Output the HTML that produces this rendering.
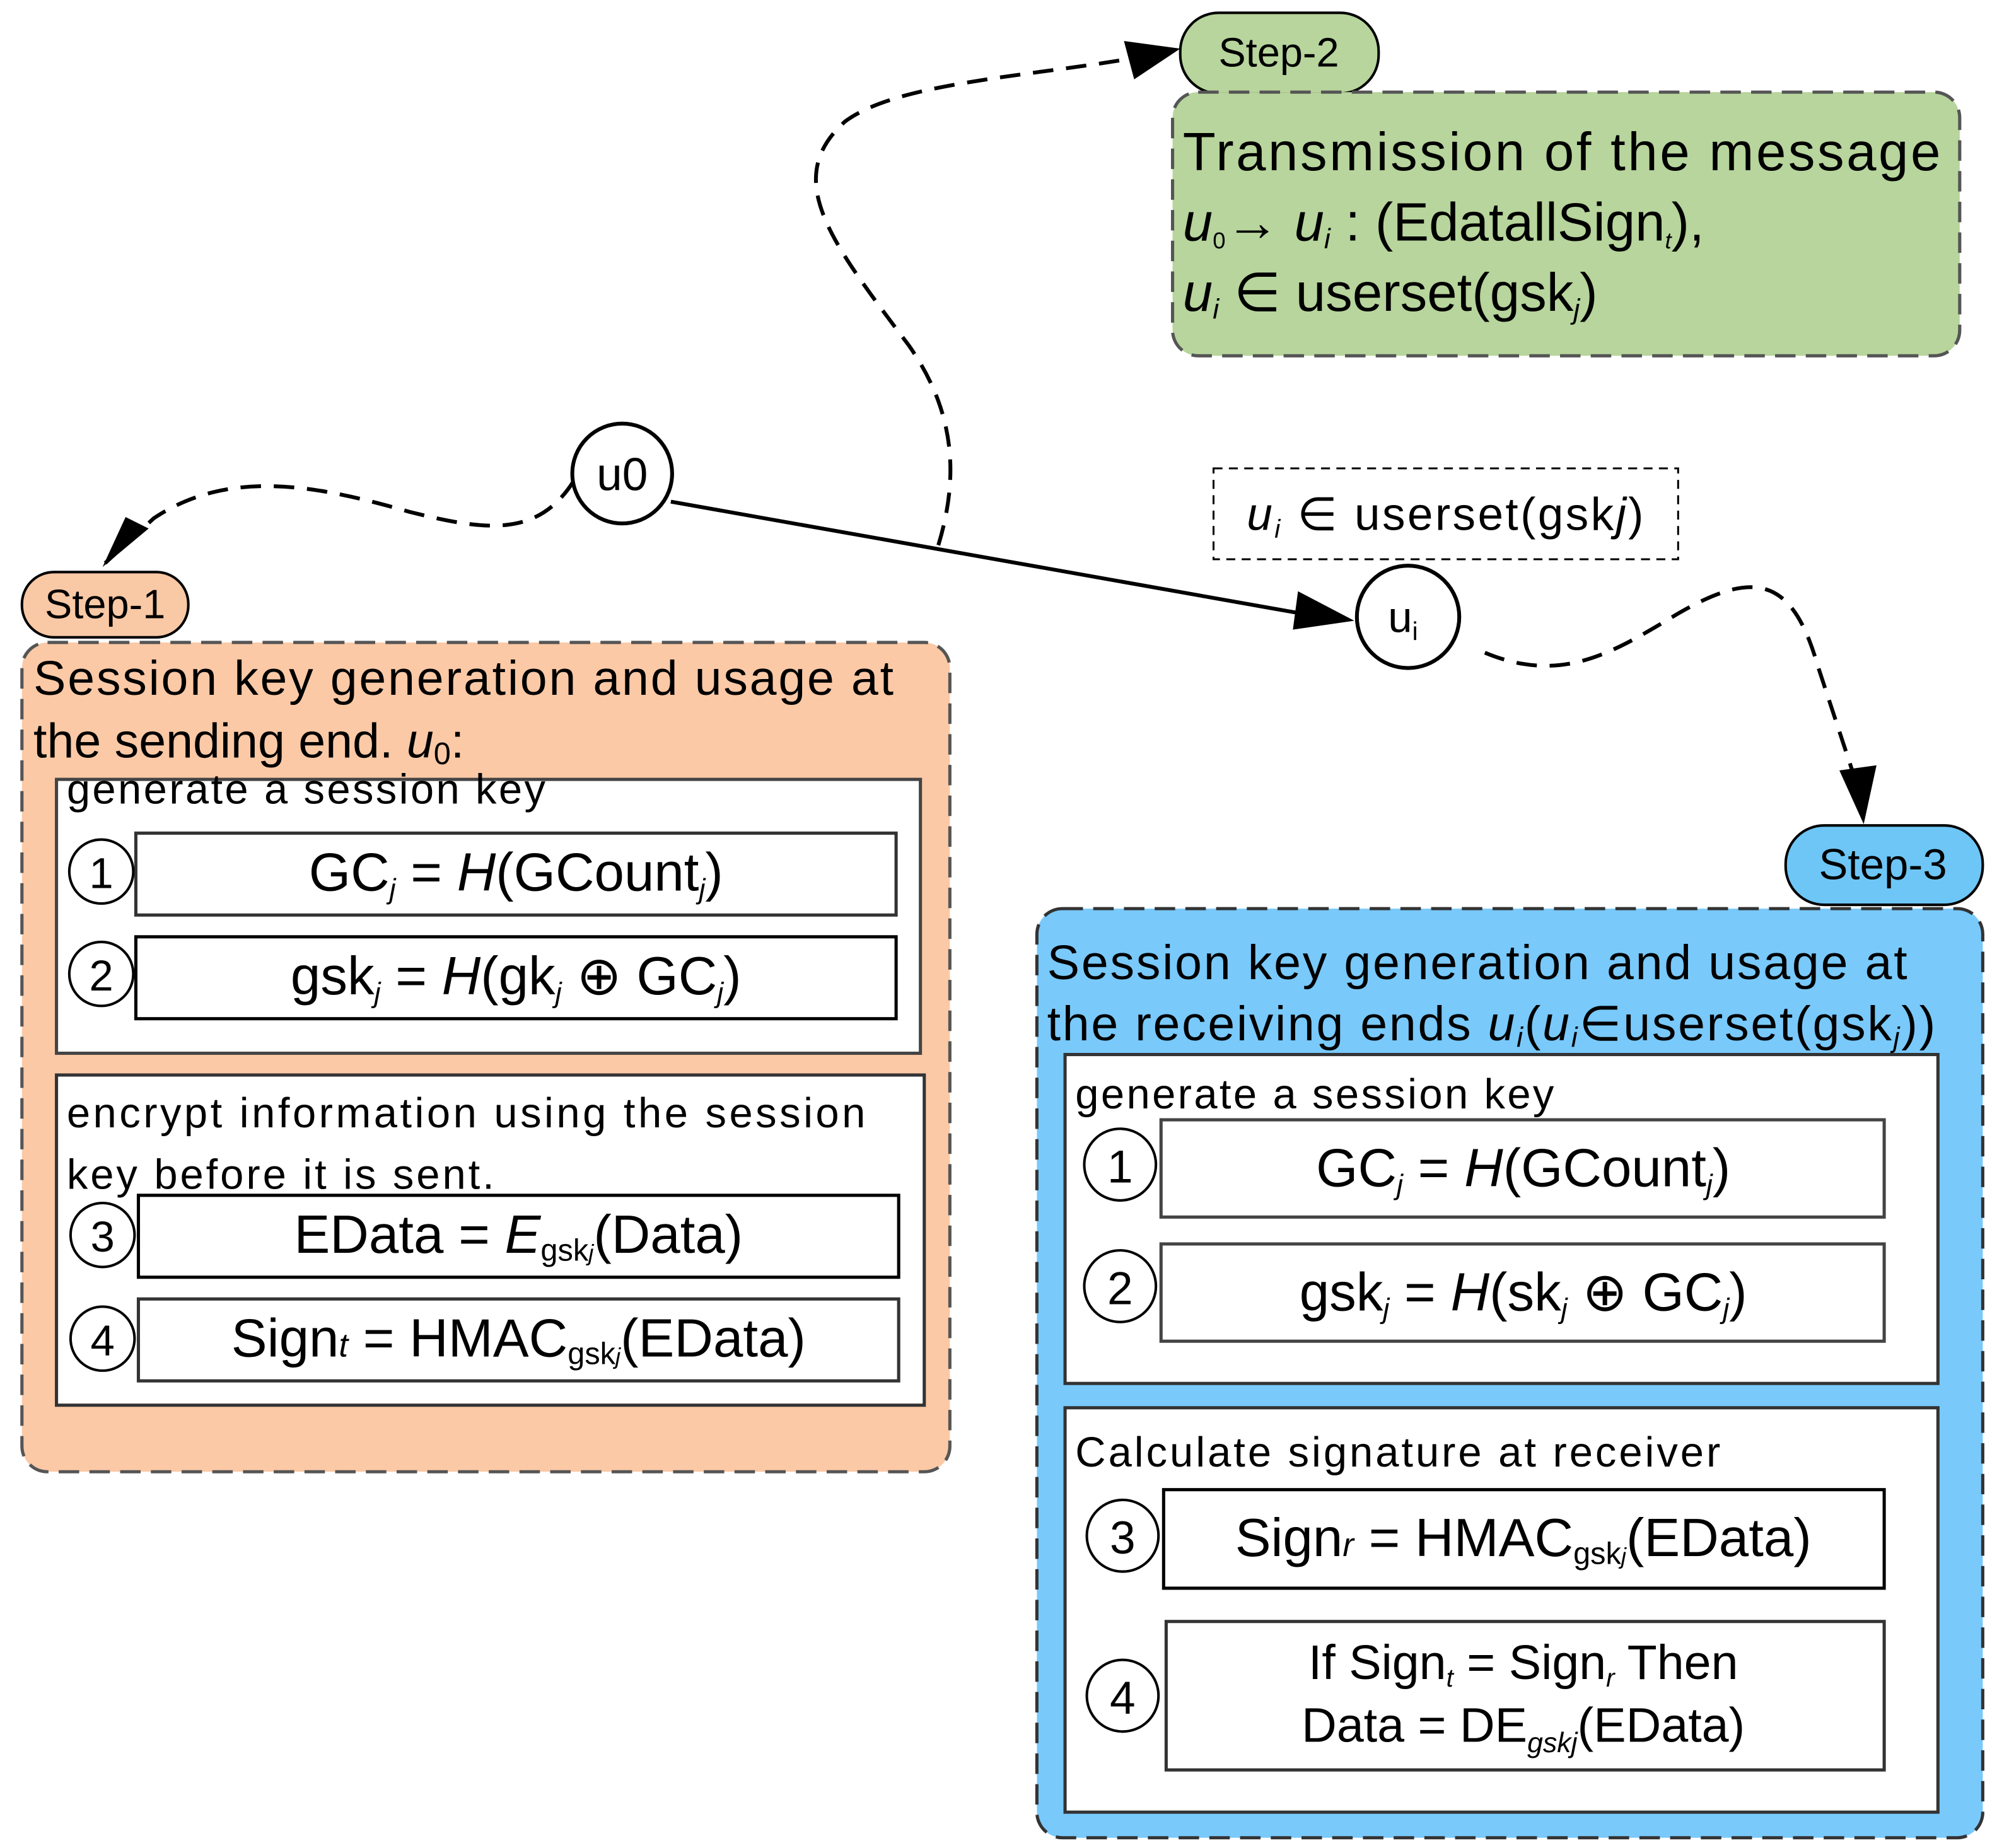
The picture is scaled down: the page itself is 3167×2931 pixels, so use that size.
<!DOCTYPE html>
<html><head><meta charset="utf-8"><style>html,body{margin:0;padding:0;background:#fff}svg{display:block}</style></head>
<body>
<svg width="3167" height="2931" viewBox="0 0 1560 1444" xmlns="http://www.w3.org/2000/svg" font-family="Liberation Sans, Arial, sans-serif">
<defs>
<marker id="ah" markerWidth="10" markerHeight="10" refX="9" refY="5" orient="auto" markerUnits="userSpaceOnUse" viewBox="0 0 10 10"><path d="M0,0 L10,5 L0,10 z" fill="#000"/></marker>
<marker id="ahb" markerWidth="40" markerHeight="30" refX="38" refY="15" orient="auto" markerUnits="userSpaceOnUse"><path d="M0,0 L40,15 L0,30 z" fill="#000"/></marker>
</defs>

<!-- Connectors -->
<path d="M448,376 C420,420 380,415 320,400 C250,380 180,365 120,405 L82,440" fill="none" stroke="#000" stroke-width="3" stroke-dasharray="16,10"/>
<path d="M116,413 L80,443 L98,404 z" fill="#000"/>
<path d="M733,426 C750,370 745,320 710,270 C650,190 610,140 660,95 C700,65 800,60 882,46" fill="none" stroke="#000" stroke-width="3" stroke-dasharray="16,10"/>
<path d="M878,32 L922,38 L886,62 z" fill="#000"/>
<line x1="524" y1="392" x2="1020" y2="480" stroke="#000" stroke-width="3"/>
<path d="M1014,462 L1058,485 L1010,492 z" fill="#000"/>
<path d="M1160,510 C1220,535 1260,510 1310,480 C1370,445 1400,450 1420,520 L1448,605" fill="none" stroke="#000" stroke-width="3" stroke-dasharray="16,10"/>
<path d="M1437,602 L1456,644 L1466,598 z" fill="#000"/>

<!-- u0 / ui nodes -->
<circle cx="486" cy="370" r="39" fill="#fff" stroke="#000" stroke-width="3"/>
<text x="486" y="383" font-size="36" text-anchor="middle">u0</text>
<circle cx="1100" cy="482" r="40" fill="#fff" stroke="#000" stroke-width="3"/>
<text x="1096" y="494" font-size="34" text-anchor="middle">u<tspan font-size="20" dy="6">i</tspan></text>

<!-- dashed label -->
<rect x="948" y="366" width="363" height="71" fill="#fff" stroke="#000" stroke-width="1.5" stroke-dasharray="7,5"/>
<text x="974" y="414" font-size="36" textLength="310"><tspan font-style="italic">u</tspan><tspan font-style="italic" font-size="20" dy="6">i</tspan><tspan dy="-6"> ∈ userset(gsk</tspan><tspan font-style="italic">j</tspan>)</text>

<!-- Step-2 -->
<rect x="922" y="10" width="155" height="63" rx="30" fill="#b7d59c" stroke="#000" stroke-width="2"/>
<text x="999" y="52" font-size="32" text-anchor="middle">Step-2</text>
<rect x="916" y="72" width="615" height="206" rx="20" fill="#b7d59c" stroke="#555" stroke-width="2.5" stroke-dasharray="16,8"/>
<text x="924" y="133" font-size="42" textLength="592">Transmission of the message</text>
<text x="924" y="188" font-size="42"><tspan font-style="italic">u</tspan><tspan font-size="18" dy="6">0</tspan><tspan dy="-6">→ </tspan><tspan font-style="italic">u</tspan><tspan font-style="italic" font-size="22" dy="6">i</tspan><tspan dy="-6"> : (EdatallSign</tspan><tspan font-style="italic" font-size="18" dy="6">t</tspan><tspan dy="-6">),</tspan></text>
<text x="924" y="243" font-size="42"><tspan font-style="italic">u</tspan><tspan font-style="italic" font-size="22" dy="6">i</tspan><tspan dy="-6"> ∈ userset(gsk</tspan><tspan font-style="italic" font-size="22" dy="6">j</tspan><tspan dy="-6">)</tspan></text>

<!-- Step-1 -->
<rect x="17" y="447" width="130" height="51" rx="25" fill="#f9c8a5" stroke="#000" stroke-width="2"/>
<text x="82" y="483" font-size="32" text-anchor="middle">Step-1</text>
<rect x="17" y="502" width="725" height="648" rx="20" fill="#fbc9a6" stroke="#555" stroke-width="2.5" stroke-dasharray="16,8"/>
<text x="26" y="543" font-size="38" textLength="672">Session key generation and usage at</text>
<text x="26" y="592" font-size="38">the sending end. <tspan font-style="italic">u</tspan><tspan font-size="24" dy="5">0</tspan><tspan dy="-5">:</tspan></text>
<rect x="44" y="609" width="675" height="214" fill="#fff" stroke="#444" stroke-width="2.5"/>
<text x="52" y="628" font-size="33" textLength="374">generate a session key</text>
<rect x="106" y="651" width="594" height="64" fill="#fff" stroke="#333" stroke-width="2.5"/>
<rect x="106" y="732" width="594" height="64" fill="#fff" stroke="#000" stroke-width="2.5"/>
<circle cx="79" cy="681" r="25" fill="#fff" stroke="#000" stroke-width="2"/><text x="79" y="694" font-size="34" text-anchor="middle">1</text>
<circle cx="79" cy="761" r="25" fill="#fff" stroke="#000" stroke-width="2"/><text x="79" y="774" font-size="34" text-anchor="middle">2</text>
<text x="403" y="696" font-size="42" text-anchor="middle">GC<tspan font-style="italic" font-size="22" dy="6">j</tspan><tspan dy="-6"> = </tspan><tspan font-style="italic">H</tspan>(GCount<tspan font-style="italic" font-size="22" dy="6">j</tspan><tspan dy="-6">)</tspan></text>
<text x="403" y="777" font-size="42" text-anchor="middle">gsk<tspan font-style="italic" font-size="22" dy="6">j</tspan><tspan dy="-6"> = </tspan><tspan font-style="italic">H</tspan>(gk<tspan font-style="italic" font-size="22" dy="6">j</tspan><tspan dy="-6"> ⊕ GC</tspan><tspan font-style="italic" font-size="22" dy="6">j</tspan><tspan dy="-6">)</tspan></text>

<rect x="44" y="840" width="678" height="258" fill="#fff" stroke="#333" stroke-width="2.5"/>
<text x="52" y="881" font-size="33" textLength="624">encrypt information using the session</text>
<text x="52" y="929" font-size="33" textLength="334">key before it is sent.</text>
<rect x="108" y="934" width="594" height="64" fill="#fff" stroke="#000" stroke-width="2.5"/>
<rect x="108" y="1015" width="594" height="64" fill="#fff" stroke="#333" stroke-width="2.5"/>
<circle cx="80" cy="965" r="25" fill="#fff" stroke="#000" stroke-width="2"/><text x="80" y="978" font-size="34" text-anchor="middle">3</text>
<circle cx="80" cy="1046" r="25" fill="#fff" stroke="#000" stroke-width="2"/><text x="80" y="1059" font-size="34" text-anchor="middle">4</text>
<text x="405" y="979" font-size="42" text-anchor="middle">EData = <tspan font-style="italic">E</tspan><tspan font-size="24" dy="6">gsk</tspan><tspan font-style="italic" font-size="18">j</tspan><tspan dy="-6">(Data)</tspan></text>
<text x="405" y="1060" font-size="42" text-anchor="middle">Sign<tspan font-style="italic" font-size="26">t</tspan> = HMAC<tspan font-size="24" dy="6">gsk</tspan><tspan font-style="italic" font-size="18">j</tspan><tspan dy="-6">(EData)</tspan></text>

<!-- Step-3 -->
<rect x="1395" y="645" width="154" height="62" rx="30" fill="#6dc6f6" stroke="#000" stroke-width="2"/>
<text x="1471" y="687" font-size="34" text-anchor="middle">Step-3</text>
<rect x="810" y="710" width="739" height="726" rx="20" fill="#79c9fb" stroke="#333" stroke-width="2.5" stroke-dasharray="16,8"/>
<text x="818" y="765" font-size="38" textLength="672">Session key generation and usage at</text>
<text x="818" y="813" font-size="38" textLength="694">the receiving ends <tspan font-style="italic">u</tspan><tspan font-style="italic" font-size="22" dy="5">i</tspan><tspan dy="-5">(</tspan><tspan font-style="italic">u</tspan><tspan font-style="italic" font-size="22" dy="5">i</tspan><tspan dy="-5">∈userset(gsk</tspan><tspan font-style="italic" font-size="22" dy="5">j</tspan><tspan dy="-5">))</tspan></text>
<rect x="832" y="824" width="682" height="257" fill="#fff" stroke="#333" stroke-width="2.5"/>
<text x="840" y="866" font-size="33" textLength="374">generate a session key</text>
<rect x="907" y="875" width="565" height="76" fill="#fff" stroke="#444" stroke-width="2.5"/>
<rect x="907" y="972" width="565" height="76" fill="#fff" stroke="#444" stroke-width="2.5"/>
<circle cx="875" cy="910" r="28" fill="#fff" stroke="#000" stroke-width="2"/><text x="875" y="924" font-size="36" text-anchor="middle">1</text>
<circle cx="875" cy="1005" r="28" fill="#fff" stroke="#000" stroke-width="2"/><text x="875" y="1019" font-size="36" text-anchor="middle">2</text>
<text x="1190" y="927" font-size="42" text-anchor="middle">GC<tspan font-style="italic" font-size="22" dy="6">j</tspan><tspan dy="-6"> = </tspan><tspan font-style="italic">H</tspan>(GCount<tspan font-style="italic" font-size="22" dy="6">j</tspan><tspan dy="-6">)</tspan></text>
<text x="1190" y="1024" font-size="42" text-anchor="middle">gsk<tspan font-style="italic" font-size="22" dy="6">j</tspan><tspan dy="-6"> = </tspan><tspan font-style="italic">H</tspan>(sk<tspan font-style="italic" font-size="22" dy="6">j</tspan><tspan dy="-6"> ⊕ GC</tspan><tspan font-style="italic" font-size="22" dy="6">j</tspan><tspan dy="-6">)</tspan></text>

<rect x="832" y="1100" width="682" height="316" fill="#fff" stroke="#333" stroke-width="2.5"/>
<text x="840" y="1146" font-size="33" textLength="504">Calculate signature at receiver</text>
<rect x="909" y="1164" width="563" height="77" fill="#fff" stroke="#000" stroke-width="2.5"/>
<rect x="911" y="1267" width="561" height="116" fill="#fff" stroke="#333" stroke-width="2.5"/>
<circle cx="877" cy="1200" r="28" fill="#fff" stroke="#000" stroke-width="2"/><text x="877" y="1214" font-size="36" text-anchor="middle">3</text>
<circle cx="877" cy="1325" r="28" fill="#fff" stroke="#000" stroke-width="2"/><text x="877" y="1339" font-size="36" text-anchor="middle">4</text>
<text x="1190" y="1216" font-size="42" text-anchor="middle">Sign<tspan font-style="italic" font-size="26">r</tspan> = HMAC<tspan font-size="24" dy="6">gsk</tspan><tspan font-style="italic" font-size="18">j</tspan><tspan dy="-6">(EData)</tspan></text>
<text x="1190" y="1312" font-size="38" text-anchor="middle">If Sign<tspan font-style="italic" font-size="20" dy="6">t</tspan><tspan dy="-6"> = Sign</tspan><tspan font-style="italic" font-size="20" dy="6">r</tspan><tspan dy="-6"> Then</tspan></text>
<text x="1190" y="1361" font-size="38" text-anchor="middle">Data = DE<tspan font-style="italic" font-size="22" dy="8">gskj</tspan><tspan dy="-8">(EData)</tspan></text>
</svg>
</body></html>
